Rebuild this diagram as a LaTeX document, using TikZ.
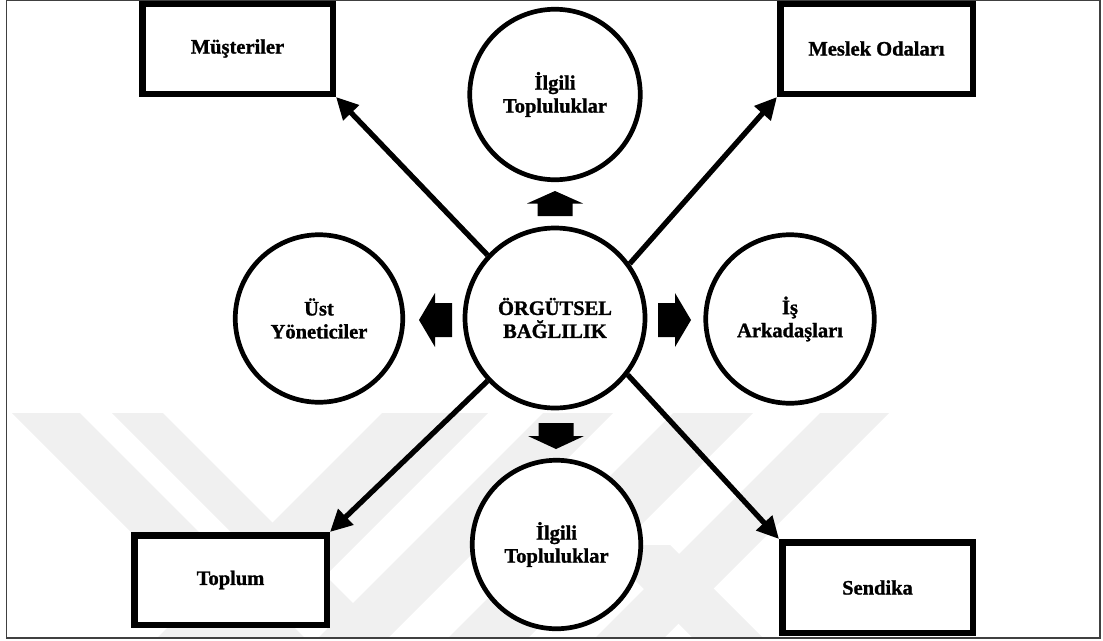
\documentclass[tikz,border=0pt]{standalone}
\usepackage{fontspec}
\setmainfont{Liberation Serif}[BoldFeatures={FakeBold=1.2}]
\usetikzlibrary{arrows.meta}
\begin{document}
\begin{tikzpicture}[x=1pt,y=-1pt,
  every node/.style={font=\bfseries\fontsize{20.5}{23}\selectfont, align=center, inner sep=0pt},
  ring/.style={circle, draw, line width=4.7pt, fill=white, minimum size=#1},
  ring/.default=168.5pt,
  card/.style={rectangle, draw, line width=6.5pt, fill=white},
  link/.style={line width=5.3pt, -{Triangle[length=22pt,width=21pt]}},
  block/.style={fill=black},
  wmband/.style={fill=black!6}
]
\useasboundingbox (0,0) rectangle (1103,640);

% faint background emblem in the lower half
\begin{scope}
  \clip (6.5,0.8) rectangle (1100,638);
  \fill[wmband] (12,413) -- (80,413) -- (304,637) -- (236,637) -- cycle;
  \fill[wmband] (112,413) -- (163,413) -- (387,637) -- (336,637) -- cycle;
  \fill[wmband] (382,413) -- (488,413) -- (264,637) -- (158,637) -- cycle;
  \fill[wmband] (543,413) -- (613,413) -- (389,637) -- (319,637) -- cycle;
  \fill[wmband] (673,413) -- (753,413) -- (529,637) -- (449,637) -- cycle;
  \fill[wmband] (820,413) -- (889,413) -- (665,637) -- (596,637) -- cycle;
  \fill[wmband] (600,545) -- (670,545) -- (762,637) -- (692,637) -- cycle;
\end{scope}

% outer boxes
\node[card, minimum width=190.5pt, minimum height=90.5pt] (mus) at (237.5,48.5) {Müşteriler};
\node[card, minimum width=192.5pt, minimum height=90.5pt] (mes) at (876.5,48.5) {Meslek Odaları};
\node[card, minimum width=192.5pt, minimum height=89.5pt] (tpl) at (230.5,580) {Toplum};
\node[card, minimum width=190.5pt, minimum height=90.5pt] (sen) at (877.5,587.5) {Sendika};

% circles
\node[ring=180pt] (org) at (555,318) {ÖRGÜTSEL\\BAĞLILIK};
\node[ring=170.5pt] (ilgu) at (555,94.5) {İlgili\\Topluluklar};
\node[ring=167.5pt] (ust) at (319,318.5) {Üst\\Yöneticiler};
\node[ring] (isa) at (790,319) {İş\\Arkadaşları};
\node[ring] (ilgd) at (556.5,544.5) {İlgili\\Topluluklar};

% diagonal connectors
\draw[link] (org.137) -- (mus.south east);
\draw[link] (org.36) -- (mes.south west);
\draw[link] (org.223) -- (tpl.north east);
\draw[link] (org.322) -- (sen.north west);

% block arrows around the centre
\fill[block] (555,191) -- (583,203.5) -- (572.5,203.5) -- (572.5,216) -- (537.5,216) -- (537.5,203.5) -- (527,203.5) -- cycle;
\fill[block] (538.5,423) -- (573.5,423) -- (573.5,436) -- (584,436) -- (556,449) -- (528,436) -- (538.5,436) -- cycle;
\fill[block] (419,320) -- (435,293) -- (435,303) -- (452,303) -- (452,337) -- (435,337) -- (435,347) -- cycle;
\fill[block] (691,320) -- (675,293) -- (675,303) -- (658,303) -- (658,337) -- (675,337) -- (675,347) -- cycle;

% frame
\draw[line width=1.3pt, black!75] (6.5,0.8) rectangle (1100,638);
\end{tikzpicture}
\end{document}
